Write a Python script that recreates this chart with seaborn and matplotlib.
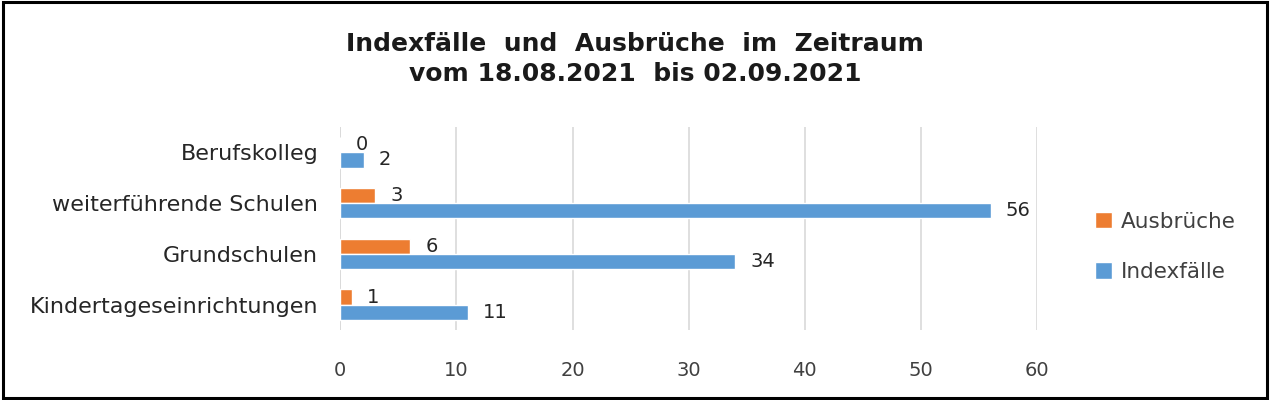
import matplotlib
matplotlib.use("Agg")
import matplotlib.pyplot as plt
import pandas as pd
import seaborn as sns

categories = ["Berufskolleg", "weiterführende Schulen", "Grundschulen", "Kindertageseinrichtungen"]
ausbrueche = [0, 3, 6, 1]
indexfaelle = [2, 56, 34, 11]
series_names = ["Ausbrüche", "Indexfälle"]
colors = ["#ED7D31", "#5B9BD5"]
x_ticks = [0, 10, 20, 30, 40, 50, 60]

df = pd.DataFrame({
    "Kategorie": categories * 2,
    "Wert": ausbrueche + indexfaelle,
    "Serie": [series_names[0]] * len(categories) + [series_names[1]] * len(categories),
})

sns.set_style("white")
plt.rcParams["font.family"] = ["DejaVu Sans"]

fig = plt.figure(figsize=(12.7, 4.0), dpi=100)
ax = fig.add_axes([0.268, 0.175, 0.5485, 0.5075])

sns.barplot(data=df, y="Kategorie", x="Wert", hue="Serie", order=categories,
            hue_order=series_names, palette=colors, orient="h", width=0.6,
            saturation=1, ax=ax, legend=True)

for cont in ax.containers:
    ax.bar_label(cont, padding=11, fontsize=14, color="#262626")

ax.set_xlim(0, 60)
ax.set_xticks(x_ticks)
ax.tick_params(axis="x", labelsize=14, colors="#404040", pad=22, length=0)
ax.tick_params(axis="y", labelsize=16, colors="#262626", pad=16, length=0)
ax.set_xlabel("")
ax.set_ylabel("")
ax.grid(axis="x", color="#D9D9D9", linewidth=1.2)
ax.set_axisbelow(True)
for s in ax.spines.values():
    s.set_visible(False)
ax.axvline(0, color="#D9D9D9", linewidth=1.2, zorder=0)

leg = ax.legend(loc="center left", bbox_to_anchor=(1.055, 0.41), frameon=False,
                fontsize=15.5, handlelength=0.8, handleheight=0.8,
                labelspacing=1.4, handletextpad=0.4)
for t in leg.get_texts():
    t.set_color("#404040")

fig.text(0.5, 0.853, "Indexfälle  und  Ausbrüche  im  Zeitraum\nvom 18.08.2021  bis 02.09.2021",
         ha="center", va="center", fontsize=18, fontweight="bold",
         linespacing=1.3, color="#1a1a1a")

fig.patches.append(plt.Rectangle((0.002, 0.004), 0.996, 0.992, transform=fig.transFigure,
                                 fill=False, edgecolor="black", linewidth=2.2))

fig.savefig("out.png", dpi=100)
